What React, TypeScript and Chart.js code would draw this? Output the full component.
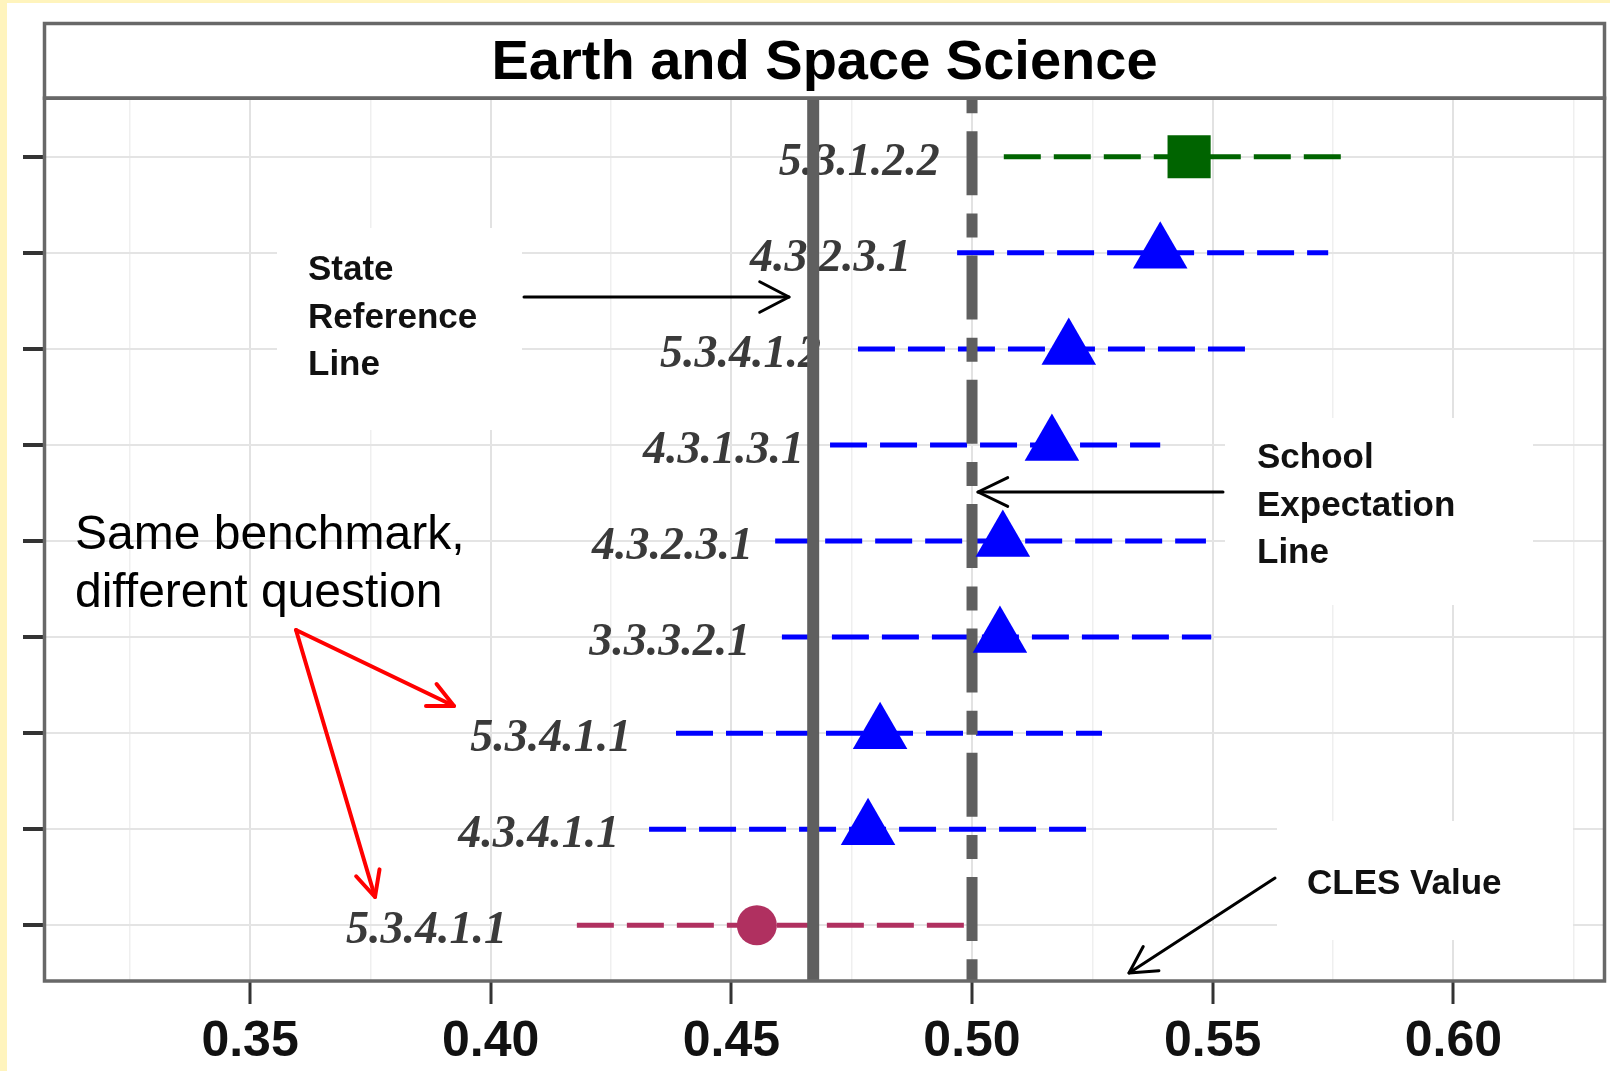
import React, { useEffect, useRef } from 'react';
import { Chart, registerables } from 'chart.js';

Chart.register(...registerables);

// ---------------- data ----------------
const questions = ['5.3.1.2.2', '4.3.2.3.1', '5.3.4.1.2', '4.3.1.3.1', '4.3.2.3.1', '3.3.3.2.1', '5.3.4.1.1', '4.3.4.1.1', '5.3.4.1.1'];
const clesValues = [0.5451, 0.5391, 0.5201, 0.5166, 0.5064, 0.5058, 0.4809, 0.4784, 0.4553];
const lowerBounds = [0.5066, 0.4969, 0.4763, 0.4705, 0.4591, 0.4605, 0.4385, 0.4329, 0.4179];
const upperBounds = [0.5771, 0.574, 0.5571, 0.5391, 0.5486, 0.5497, 0.527, 0.5241, 0.4985];
const labelAnchors = [0.4933, 0.4873, 0.4686, 0.4651, 0.4545, 0.4539, 0.4292, 0.4267, 0.4034];
const performanceGroups = ['above', 'expected', 'expected', 'expected', 'expected', 'expected', 'expected', 'expected', 'below'];
const stateReference = 0.467;
const schoolExpectation = 0.5;
const xMajorTicks = [0.35, 0.4, 0.45, 0.5, 0.55, 0.6];
const xMinorTicks = [0.325, 0.375, 0.425, 0.475, 0.525, 0.575, 0.625];
const xRange = [0.3074, 0.6313];
const yRange = [0.39, 9.57];
const chartTitle = 'Earth and Space Science';

// ---------------- styles ----------------
const groupStyle: Record<string, { color: string; shape: string; radius: number }> = {
  above: { color: '#006400', shape: 'rect', radius: 30.5 },
  expected: { color: '#0000ff', shape: 'triangle', radius: 31.5 },
  below: { color: '#b03060', shape: 'circle', radius: 20 },
};

const SANS = '"Liberation Sans", Arial, sans-serif';
const SERIF = '"Liberation Serif", "Times New Roman", serif';

const isMajor = (v: number) => xMajorTicks.some((m) => Math.abs(m - v) < 1e-9);

function drawArrow(ctx: CanvasRenderingContext2D, x1: number, y1: number, x2: number, y2: number, color: string, width: number, headLen: number, headAngle: number) {
  ctx.save();
  ctx.strokeStyle = color;
  ctx.lineWidth = width;
  ctx.lineCap = 'round';
  ctx.lineJoin = 'round';
  ctx.setLineDash([]);
  ctx.beginPath();
  ctx.moveTo(x1, y1);
  ctx.lineTo(x2, y2);
  ctx.stroke();
  const a = Math.atan2(y2 - y1, x2 - x1);
  ctx.beginPath();
  ctx.moveTo(x2 - headLen * Math.cos(a - headAngle), y2 - headLen * Math.sin(a - headAngle));
  ctx.lineTo(x2, y2);
  ctx.lineTo(x2 - headLen * Math.cos(a + headAngle), y2 - headLen * Math.sin(a + headAngle));
  ctx.stroke();
  ctx.restore();
}

const decorPlugin = {
  id: 'decor',
  beforeDraw(chart: any) {
    const ctx = chart.ctx as CanvasRenderingContext2D;
    ctx.save();
    ctx.fillStyle = '#fff4bd';
    ctx.fillRect(0, 0, chart.width, chart.height);
    ctx.fillStyle = '#ffffff';
    ctx.fillRect(7, 3, chart.width - 7, chart.height - 3);
    ctx.restore();
  },
  beforeDatasetsDraw(chart: any) {
    const ctx = chart.ctx as CanvasRenderingContext2D;
    const xs = chart.scales.x;
    const ys = chart.scales.y;
    ctx.save();
    // white boxes behind callout texts
    ctx.fillStyle = '#ffffff';
    ctx.fillRect(277, 228, 245, 202);
    ctx.fillRect(1225, 418, 308, 187);
    ctx.fillRect(1277, 821, 296, 119);
    // question labels
    ctx.font = `italic bold 46px ${SERIF}`;
    ctx.fillStyle = '#3a3a3a';
    ctx.textAlign = 'right';
    ctx.textBaseline = 'alphabetic';
    questions.forEach((q, i) => {
      const x = xs.getPixelForValue(labelAnchors[i]);
      const y = ys.getPixelForValue(i + 1);
      ctx.fillText(q, x, y + 18);
    });
    ctx.restore();
  },
  afterDraw(chart: any) {
    const ctx = chart.ctx as CanvasRenderingContext2D;
    const a = chart.chartArea;
    ctx.save();
    // panel + strip borders
    ctx.strokeStyle = '#686868';
    ctx.lineWidth = 3.5;
    ctx.strokeRect(a.left - 0.5, a.top, a.right - a.left + 1, a.bottom - a.top + 1);
    ctx.strokeRect(a.left - 0.5, 23.5, a.right - a.left + 1, a.top - 23.5);

    // bold callouts
    ctx.fillStyle = '#111111';
    ctx.font = `bold 35px ${SANS}`;
    ctx.textAlign = 'left';
    ctx.textBaseline = 'alphabetic';
    ['State', 'Reference', 'Line'].forEach((t, i) => ctx.fillText(t, 308, 280 + i * 47.5));
    ['School', 'Expectation', 'Line'].forEach((t, i) => ctx.fillText(t, 1257, 468 + i * 47.5));
    ctx.fillText('CLES Value', 1307, 894);

    ctx.fillStyle = '#000000';
    ctx.font = `48px ${SANS}`;
    ctx.fillText('Same benchmark,', 75, 549);
    ctx.fillText('different question', 75, 607);
    ctx.restore();

    drawArrow(ctx, 524, 297, 789, 297, '#000', 3, 33, 0.48);
    drawArrow(ctx, 1223, 492, 978, 492, '#000', 3, 33, 0.45);
    drawArrow(ctx, 1275, 878, 1129, 973, '#000', 3, 30, 0.5);
    drawArrow(ctx, 296, 630, 454, 706, '#ff0000', 4, 28, 0.45);
    drawArrow(ctx, 296, 630, 375, 897, '#ff0000', 4, 28, 0.45);
  },
};

export default function App() {
  const ref = useRef<HTMLCanvasElement>(null);

  useEffect(() => {
    if (!ref.current) return;
    const ciDatasets = questions.map((q, i) => ({
      type: 'line' as const,
      label: q,
      data: [
        { x: lowerBounds[i], y: i + 1 },
        { x: upperBounds[i], y: i + 1 },
      ],
      borderColor: groupStyle[performanceGroups[i]].color,
      borderWidth: 5,
      borderDash: [37, 13],
      pointRadius: 0,
      showLine: true,
      fill: false,
      tension: 0,
      order: 2,
    }));

    const refLines = [
      {
        type: 'line' as const,
        label: 'State Reference',
        data: [
          { x: stateReference, y: yRange[0] },
          { x: stateReference, y: yRange[1] },
        ],
        borderColor: '#5f5f5f',
        borderWidth: 12,
        pointRadius: 0,
        showLine: true,
        fill: false,
        order: 1,
      },
      {
        type: 'line' as const,
        label: 'School Expectation',
        data: [
          { x: schoolExpectation, y: yRange[0] },
          { x: schoolExpectation, y: yRange[1] },
        ],
        borderColor: '#5f5f5f',
        borderWidth: 11,
        borderDash: [24, 18, 64, 18.3],
        borderDashOffset: 9,
        pointRadius: 0,
        showLine: true,
        fill: false,
        order: 1,
      },
    ];

    const pointDataset = {
      type: 'scatter' as const,
      label: 'CLES',
      data: clesValues.map((v, i) => ({ x: v, y: i + 1 })),
      pointStyle: performanceGroups.map((g) => groupStyle[g].shape),
      pointRadius: performanceGroups.map((g) => groupStyle[g].radius),
      backgroundColor: performanceGroups.map((g) => groupStyle[g].color),
      borderColor: performanceGroups.map((g) => groupStyle[g].color),
      borderWidth: 0,
      order: 0,
    };

    const chart = new Chart(ref.current, {
      type: 'scatter',
      data: { datasets: [pointDataset, ...refLines, ...ciDatasets] as any },
      options: {
        animation: false,
        responsive: false,
        devicePixelRatio: 1,
        events: [],
        layout: { autoPadding: false, padding: { left: 23, right: 6, top: 22, bottom: 3 } },
        plugins: {
          legend: { display: false },
          tooltip: { enabled: false },
          title: {
            display: true,
            text: chartTitle,
            fullSize: false,
            color: '#000000',
            font: { family: SANS, size: 56, weight: 'bold', lineHeight: 1.2 },
            padding: { top: 8, bottom: 1 },
          },
        },
        scales: {
          x: {
            type: 'linear',
            min: xRange[0],
            max: xRange[1],
            afterBuildTicks: (s: any) => {
              s.ticks = [...xMinorTicks, ...xMajorTicks].sort((p, q) => p - q).map((v) => ({ value: v }));
            },
            afterFit: (s: any) => {
              s.paddingLeft = 0;
              s.paddingRight = 0;
              s.height = 88;
            },
            ticks: {
              autoSkip: false,
              maxRotation: 0,
              minRotation: 0,
              padding: 8,
              color: '#111111',
              font: { family: SANS, size: 50, weight: 'bold', lineHeight: 1.2 },
              callback: (v: any) => (isMajor(Number(v)) ? Number(v).toFixed(2) : ''),
            },
            grid: {
              color: (c: any) => (c.tick && isMajor(c.tick.value) ? '#e2e2e2' : '#efefef'),
              lineWidth: (c: any) => (c.tick && isMajor(c.tick.value) ? 2 : 1.5),
              tickColor: (c: any) => (c.tick && isMajor(c.tick.value) ? '#333333' : 'rgba(0,0,0,0)'),
              tickWidth: 3,
              tickLength: 24,
            },
            border: { display: false },
          },
          y: {
            type: 'linear',
            reverse: true,
            min: yRange[0],
            max: yRange[1],
            afterBuildTicks: (s: any) => {
              s.ticks = questions.map((_, i) => ({ value: i + 1 }));
            },
            ticks: { display: false },
            grid: {
              color: '#e4e4e4',
              lineWidth: 2,
              tickColor: '#333333',
              tickWidth: 4,
              tickLength: 22,
            },
            border: { display: false },
          },
        },
      } as any,
      plugins: [decorPlugin],
    });
    return () => chart.destroy();
  }, []);

  return (
    <div style={{ position: 'absolute', left: 0, top: 0, width: 1610, height: 1071 }}>
      <canvas ref={ref} width={1610} height={1071} style={{ display: 'block', width: 1610, height: 1071 }} />
    </div>
  );
}
